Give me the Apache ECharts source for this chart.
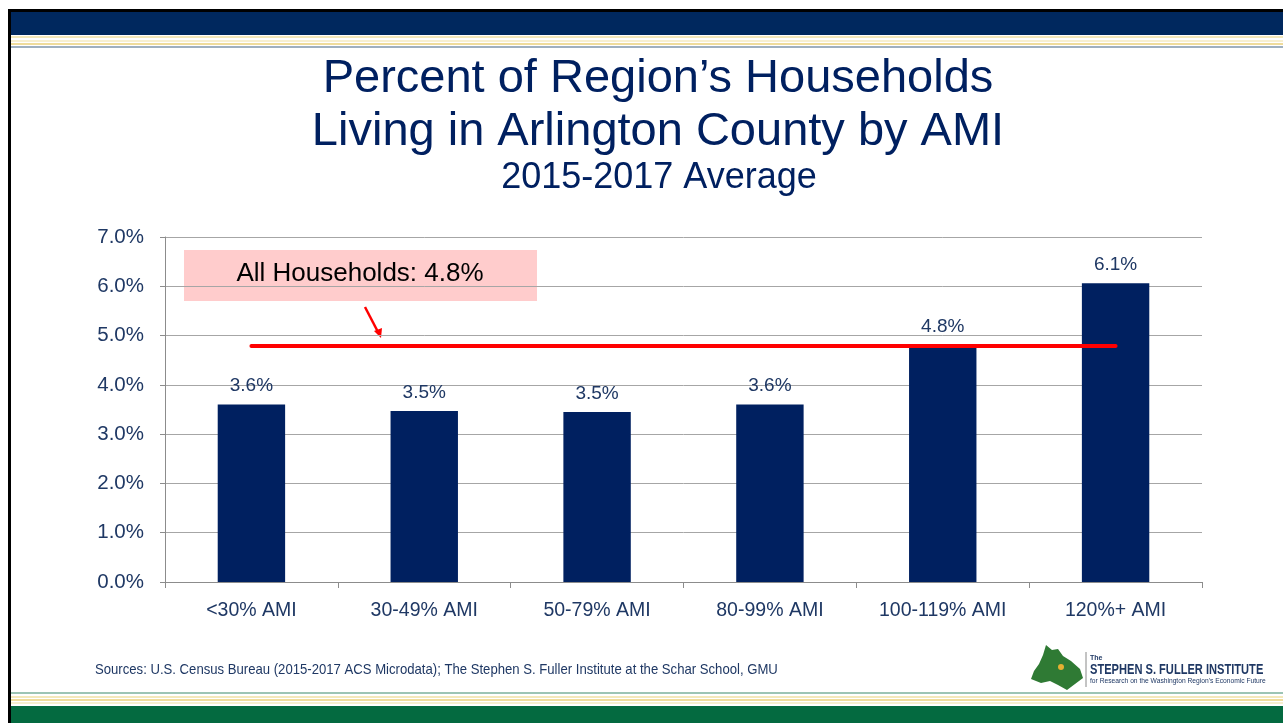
<!DOCTYPE html>
<html>
<head>
<meta charset="utf-8">
<script src="https://cdn.jsdelivr.net/npm/echarts@6/dist/echarts.min.js"></script>
<style>
  html, body { margin: 0; padding: 0; background: #fff; }
  #chart { width: 1283px; height: 723px; }
</style>
</head>
<body>
<div id="chart"></div>
<script>
// categories and values
const categories = ['<30% AMI', '30-49% AMI', '50-79% AMI', '80-99% AMI', '100-119% AMI', '120%+ AMI'];
const shares = [3.6, 3.47, 3.45, 3.6, 4.8, 6.06];
const allHouseholds = 4.8;
const yTicks = [0, 1, 2, 3, 4, 5, 6, 7];

const navy = '#002060';
const labelColor = '#1f3864';

const chart = echarts.init(document.getElementById('chart'));

// slide frame (header / footer stripes, left border)
const frame = [
  { type: 'rect', shape: { x: 8, y: 9, width: 1275, height: 3 }, style: { fill: '#000' } },
  { type: 'rect', shape: { x: 8, y: 12, width: 1275, height: 23 }, style: { fill: '#00285e' } },
  { type: 'rect', shape: { x: 8, y: 36, width: 1275, height: 2 }, style: { fill: '#f3e8bb' } },
  { type: 'rect', shape: { x: 8, y: 40, width: 1275, height: 2 }, style: { fill: '#f7efcf' } },
  { type: 'rect', shape: { x: 8, y: 43, width: 1275, height: 2 }, style: { fill: '#efdc9c' } },
  { type: 'rect', shape: { x: 8, y: 46, width: 1275, height: 2 }, style: { fill: '#9fb0bf' } },
  { type: 'rect', shape: { x: 8, y: 692, width: 1275, height: 2 }, style: { fill: '#9cc4b4' } },
  { type: 'rect', shape: { x: 8, y: 696, width: 1275, height: 2 }, style: { fill: '#f3e8bb' } },
  { type: 'rect', shape: { x: 8, y: 699, width: 1275, height: 2 }, style: { fill: '#efdc9c' } },
  { type: 'rect', shape: { x: 8, y: 702, width: 1275, height: 2 }, style: { fill: '#f7efcf' } },
  { type: 'rect', shape: { x: 8, y: 706, width: 1275, height: 17 }, style: { fill: '#046a40' } },
  { type: 'rect', shape: { x: 8, y: 9, width: 3, height: 714 }, style: { fill: '#000' } }
];

// annotation box + arrow
const annotation = [
  { type: 'rect', shape: { x: 184, y: 250, width: 353, height: 51 }, style: { fill: '#ffcccc' } },
  { type: 'text', x: 360, y: 274, style: { text: 'All Households: 4.8%', fill: '#000', font: '26px Arial, "Liberation Sans", sans-serif', align: 'center', verticalAlign: 'middle' } },
  { type: 'line', shape: { x1: 365, y1: 307, x2: 378, y2: 332 }, style: { stroke: '#ff0000', lineWidth: 2.5 } },
  { type: 'polygon', shape: { points: [[381, 338], [374, 331], [382, 328]] }, style: { fill: '#ff0000' } }
];

// footer: sources + logo (narrow text done by squeezing a regular face)
const footer = [
  { type: 'text', x: 95, y: 670, scaleX: 0.875, originX: 0, originY: 0,
    style: { text: 'Sources: U.S. Census Bureau (2015-2017 ACS Microdata); The Stephen S. Fuller Institute at the Schar School, GMU', fill: '#1f3864', font: '15px Arial, "Liberation Sans", sans-serif', verticalAlign: 'middle' } },
  { type: 'polygon', shape: { points: [[1046, 645], [1052, 650], [1058, 649], [1063, 656], [1071, 661], [1080, 669], [1083, 678], [1075, 684], [1067, 690], [1058, 685], [1050, 681], [1041, 683], [1031, 679], [1034, 671], [1039, 664], [1043, 655]] }, style: { fill: '#2f7a34' } },
  { type: 'circle', shape: { cx: 1061, cy: 667, r: 3 }, style: { fill: '#e5b032' } },
  { type: 'line', shape: { x1: 1086, y1: 652, x2: 1086, y2: 687 }, style: { stroke: '#888', lineWidth: 1 } },
  { type: 'text', x: 1090, y: 658, style: { text: 'The', fill: '#1f3864', font: 'bold 7px Arial, sans-serif', verticalAlign: 'middle' } },
  { type: 'text', x: 1090, y: 670, scaleX: 0.74, originX: 0, originY: 0,
    style: { text: 'STEPHEN S. FULLER INSTITUTE', fill: '#1f3864', font: 'bold 15px Arial, "Liberation Sans", sans-serif', verticalAlign: 'middle' } },
  { type: 'text', x: 1090, y: 681, style: { text: "for Research on the Washington Region's Economic Future", fill: '#1f3864', font: '6.7px Arial, sans-serif', verticalAlign: 'middle' } }
];

chart.setOption({
  animation: false,
  textStyle: { fontFamily: 'Arial, "Liberation Sans", sans-serif' },
  title: [
    { text: 'Percent of Region\u2019s Households', left: 653, top: 51, textAlign: 'center',
      textStyle: { color: navy, fontSize: 47, fontWeight: 'normal' } },
    { text: 'Living in Arlington County by AMI', left: 653, top: 104, textAlign: 'center',
      textStyle: { color: navy, fontSize: 47, fontWeight: 'normal' } },
    { text: '2015-2017 Average', left: 654, top: 155, textAlign: 'center',
      textStyle: { color: navy, fontSize: 36, fontWeight: 'normal' } }
  ],
  grid: { left: 165, top: 237, right: 81, bottom: 141 },
  xAxis: {
    type: 'category',
    data: categories,
    axisLine: { lineStyle: { color: '#8c8c8c' } },
    axisTick: { show: true, length: 6, lineStyle: { color: '#8c8c8c' } },
    axisLabel: { color: labelColor, fontSize: 19.5, margin: 19 }
  },
  yAxis: {
    type: 'value',
    min: yTicks[0],
    max: yTicks[yTicks.length - 1],
    interval: 1,
    axisLine: { show: true, lineStyle: { color: '#8c8c8c' } },
    axisTick: { show: true, length: 5, lineStyle: { color: '#8c8c8c' } },
    axisLabel: { color: labelColor, fontSize: 20.5, margin: 21, formatter: v => v.toFixed(1) + '%' },
    splitLine: { lineStyle: { color: '#a6a6a6' } }
  },
  series: [{
    type: 'bar',
    data: shares,
    barWidth: '39%',
    itemStyle: { color: navy },
    label: {
      show: true, position: 'top', distance: 9,
      color: labelColor, fontSize: 19,
      formatter: p => (Math.round(p.value * 10) / 10).toFixed(1) + '%'
    },
    markLine: {
      symbol: ['none', 'none'],
      silent: true,
      label: { show: false },
      lineStyle: { color: '#ff0000', width: 4, type: 'solid', cap: 'round' },
      data: [[{ coord: [0, allHouseholds] }, { coord: [5, allHouseholds] }]]
    }
  }],
  graphic: frame.concat(annotation, footer)
});
</script>
</body>
</html>
